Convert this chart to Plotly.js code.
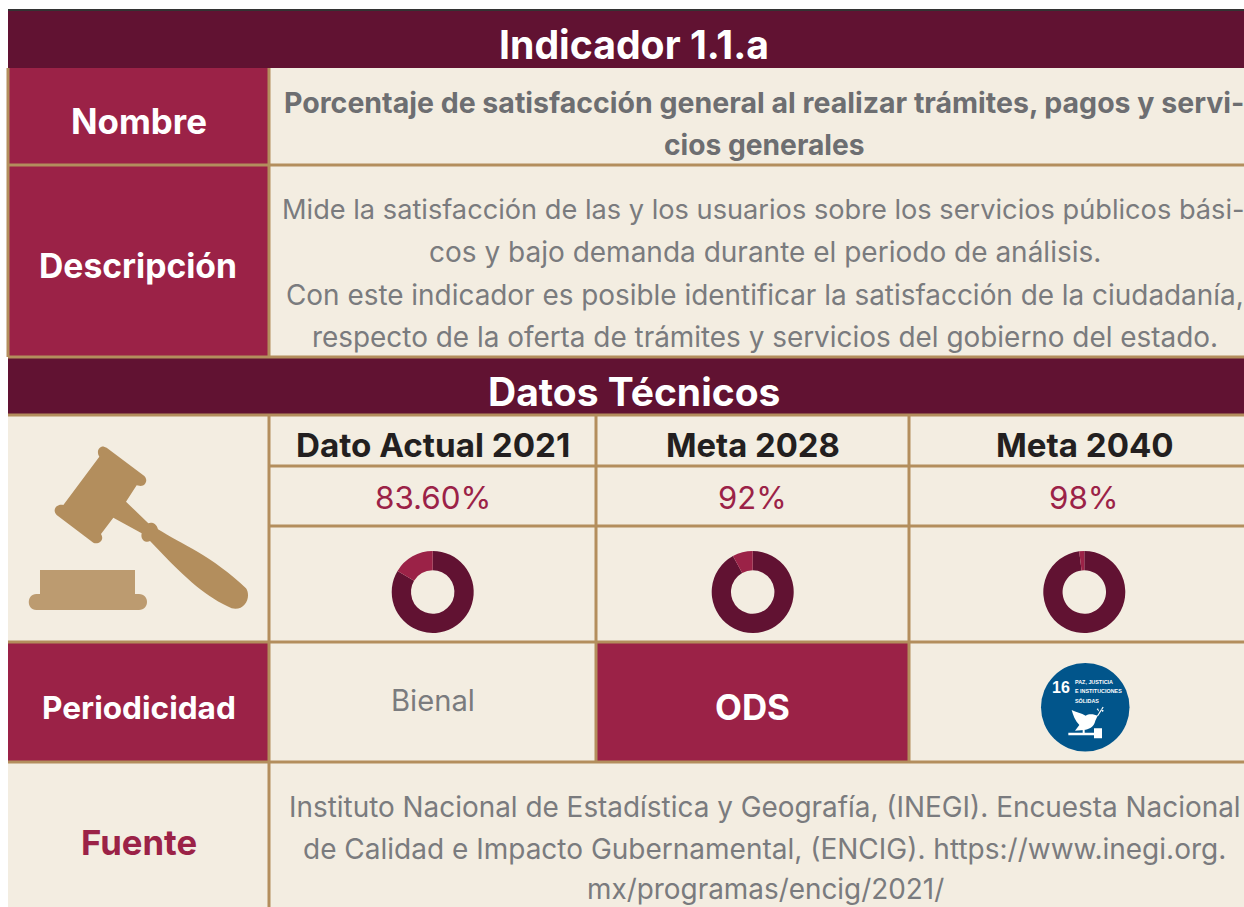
<!DOCTYPE html>
<html><head><meta charset="utf-8">
<script src="https://cdn.plot.ly/plotly-3.0.1.min.js"></script>
<style>html,body{margin:0;padding:0;background:#fff;overflow:hidden}#c{width:1244px;height:907px}</style>
</head><body><div id="c"></div>
<script>
const W = 1244, H = 907;
const DARK = '#611232', RED = '#9B2247', GOLD = '#B38E5D', GOLD2 = '#BC9B70', CREAM = '#F3EDE1', GRAY = '#6D6E71', GRAY2 = '#7A7B7E', INK = '#231F20', BLUE = '#01558B';
const FONT = 'Inter, "Open Sans", sans-serif';
const SMALL = '"Liberation Sans", sans-serif';

const pieLabels = ['Avance', 'Restante'];
const dato2021 = [83.6, 16.4];
const meta2028 = [92, 8];
const meta2040 = [98, 2];

const columnTitles = ['Dato Actual 2021', 'Meta 2028', 'Meta 2040'];
const columnValues = ['83.60%', '92%', '98%'];

const toX = x => x / W, toY = y => 1 - y / H;
const rect = (x0, y0, x1, y1, fill) => ({type:'rect', xref:'paper', yref:'paper', x0:toX(x0), x1:toX(x1), y0:toY(y0), y1:toY(y1), fillcolor:fill, line:{width:0}, layer:'below'});
const hline = (x0, x1, y, w) => ({type:'line', xref:'paper', yref:'paper', x0:toX(x0), x1:toX(x1), y0:toY(y), y1:toY(y), line:{color:GOLD, width:w||3}, layer:'below'});
const vline = (x, y0, y1, w) => ({type:'line', xref:'paper', yref:'paper', x0:toX(x), x1:toX(x), y0:toY(y0), y1:toY(y1), line:{color:GOLD, width:w||3}, layer:'below'});
function pathOf(str, ox, oy, fill) {
  const d = str.replace(/(-?[\d.]+),(-?[\d.]+)/g, (m, a, b) => toX(+a/3+ox).toFixed(6) + ',' + toY(+b/3+oy).toFixed(6));
  return {type:'path', xref:'paper', yref:'paper', path:d, fillcolor:fill, line:{width:0}, layer:'above'};
}
const shapes = [
  rect(8,9,1244,11,'#333333'),
  rect(8,11,1244,68,DARK),
  rect(8,68,1244,907,CREAM),
  rect(8,68,268,165,RED),
  rect(8,165,268,357,RED),
  rect(8,357,1244,414,DARK),
  rect(8,642,268,762,RED),
  rect(597,642,908,762,RED),
  hline(8,1244,165), hline(8,1244,357), hline(8,1244,415), hline(269,1244,466), hline(269,1244,526),
  hline(8,1244,642), hline(8,1244,762),
  vline(8,68,357), vline(269,68,357), vline(269,415,907), vline(596,415,762), vline(909,415,762),
  pathOf('M 298,140 C 288,125 297,108 312,110 L 320,113 L 432,197 C 445,208 438,228 422,228 L 410,226 L 378,275 L 445,340 C 452,335 470,338 474,358 C 540,400 640,440 738,535 C 755,560 735,605 695,595 C 620,560 570,520 450,393 C 440,400 420,392 425,370 L 340,323 L 303,372 C 315,390 295,405 280,398 L 170,315 C 155,300 170,280 190,285 Z', 0, 410, GOLD),
  pathOf('M 120,480 L 405,480 L 405,552 L 417,552 C 449,552 449,600 417,600 L 109,600 C 79,600 79,552 109,552 L 120,552 Z', 0, 410, GOLD2),
  {type:'circle', xref:'paper', yref:'paper', x0:toX(1041), x1:toX(1129.5), y0:toY(663), y1:toY(751.5), fillcolor:BLUE, line:{width:0}, layer:'above'},
  pathOf('M 155,180 C 168,186 185,190 197,197 C 207,190 222,192 233,197 L 226,212 C 222,232 205,238 192,240 L 165,242 L 178,225 C 165,212 159,195 155,180 Z', 1020, 650, '#fff'),
  pathOf('M 231,197 L 248,170 L 251,172 L 234,199 Z M 238,185 L 230,178 L 234,175 Z M 243,178 L 252,182 L 247,186 Z', 1020, 650, '#fff'),
  pathOf('M 145,248 L 222,248 L 222,235 L 246,235 L 246,265 L 222,265 L 222,256 L 145,256 Z', 1020, 650, '#fff'),
  pathOf('M 188,240 L 194,240 L 194,250 L 188,250 Z', 1020, 650, '#fff')
];

const text = (t, x, y, size, color, bold, family) => ({text: bold ? '<b>' + t + '</b>' : t, xref:'paper', yref:'paper', x:toX(x), y:toY(y), xanchor:'center', yanchor:'middle', showarrow:false, font:{family:family||FONT, size:size, color:color}});
const leftText = (t, x, y, size) => ({...text(t, x, y, size, '#fff', true, SMALL), xanchor:'left', align:'left'});
const annotations = [
  text('Indicador 1.1.a', 633.5, 45, 39.2, '#fff', true),
  text('Nombre', 139, 121, 34.9, '#fff', true),
  text('Porcentaje de satisfacción general al realizar trámites, pagos y servi-', 763.5, 103, 28.5, GRAY, true),
  text('cios generales', 764.5, 145, 28.2, GRAY, true),
  text('Descripción', 138, 265, 33.7, '#fff', true),
  text('Mide la satisfacción de las y los usuarios sobre los servicios públicos bási-', 763, 209, 27.2, GRAY2),
  text('cos y bajo demanda durante el periodo de análisis.', 764.5, 252, 28, GRAY2),
  text('Con este indicador es posible identificar la satisfacción de la ciudadanía,', 764.5, 295, 27.9, GRAY2),
  text('respecto de la oferta de trámites y servicios del gobierno del estado.', 764.5, 337, 27.9, GRAY2),
  text('Datos Técnicos', 634, 391, 39, '#fff', true),
  text(columnTitles[0], 433, 445, 33.2, INK, true),
  text(columnTitles[1], 753, 445, 32.8, INK, true),
  text(columnTitles[2], 1084.5, 445, 33.1, INK, true),
  text(columnValues[0], 432.5, 498, 31.4, RED),
  text(columnValues[1], 752.5, 498, 31, RED),
  text(columnValues[2], 1084, 498, 31.3, RED),
  text('Periodicidad', 138.5, 707, 31.6, '#fff', true),
  text('Bienal', 433, 700, 29.2, GRAY2),
  text('ODS', 752.5, 707, 34.9, '#fff', true),
  text('16', 1060.5, 687, 16, '#fff', true, SMALL),
  leftText('PAZ, JUSTICIA', 1073, 682, 5.4),
  leftText('E INSTITUCIONES', 1073, 691, 5.4),
  leftText('SÓLIDAS', 1073, 700, 5.4),
  text('Fuente', 138.5, 842, 34.7, RED, true),
  text('Instituto Nacional de Estadística y Geografía, (INEGI). Encuesta Nacional', 764.5, 807, 27.9, GRAY2),
  text('de Calidad e Impacto Gubernamental, (ENCIG). https://www.inegi.org.', 764.5, 849, 28, GRAY2),
  text('mx/programas/encig/2021/', 765, 889, 27.9, GRAY2)
];

function donut(values, cx, cy, r) {
  return {type:'pie', labels:pieLabels, values:values, sort:false, direction:'clockwise', rotation:0, hole:0.53,
    marker:{colors:[DARK, RED], line:{width:0}}, textinfo:'none', hoverinfo:'skip', showlegend:false,
    domain:{x:[toX(cx-r), toX(cx+r)], y:[toY(cy+r), toY(cy-r)]}};
}
const data = [donut(dato2021,432.7,592,41), donut(meta2028,752.7,592,41), donut(meta2040,1084.3,592,41)];
const layout = {width:W, height:H, margin:{l:0,r:0,t:0,b:0}, paper_bgcolor:'#fff', plot_bgcolor:'#fff', shapes, annotations, showlegend:false};
Plotly.newPlot('c', data, layout, {displayModeBar:false, staticPlot:true});
</script></body></html>
